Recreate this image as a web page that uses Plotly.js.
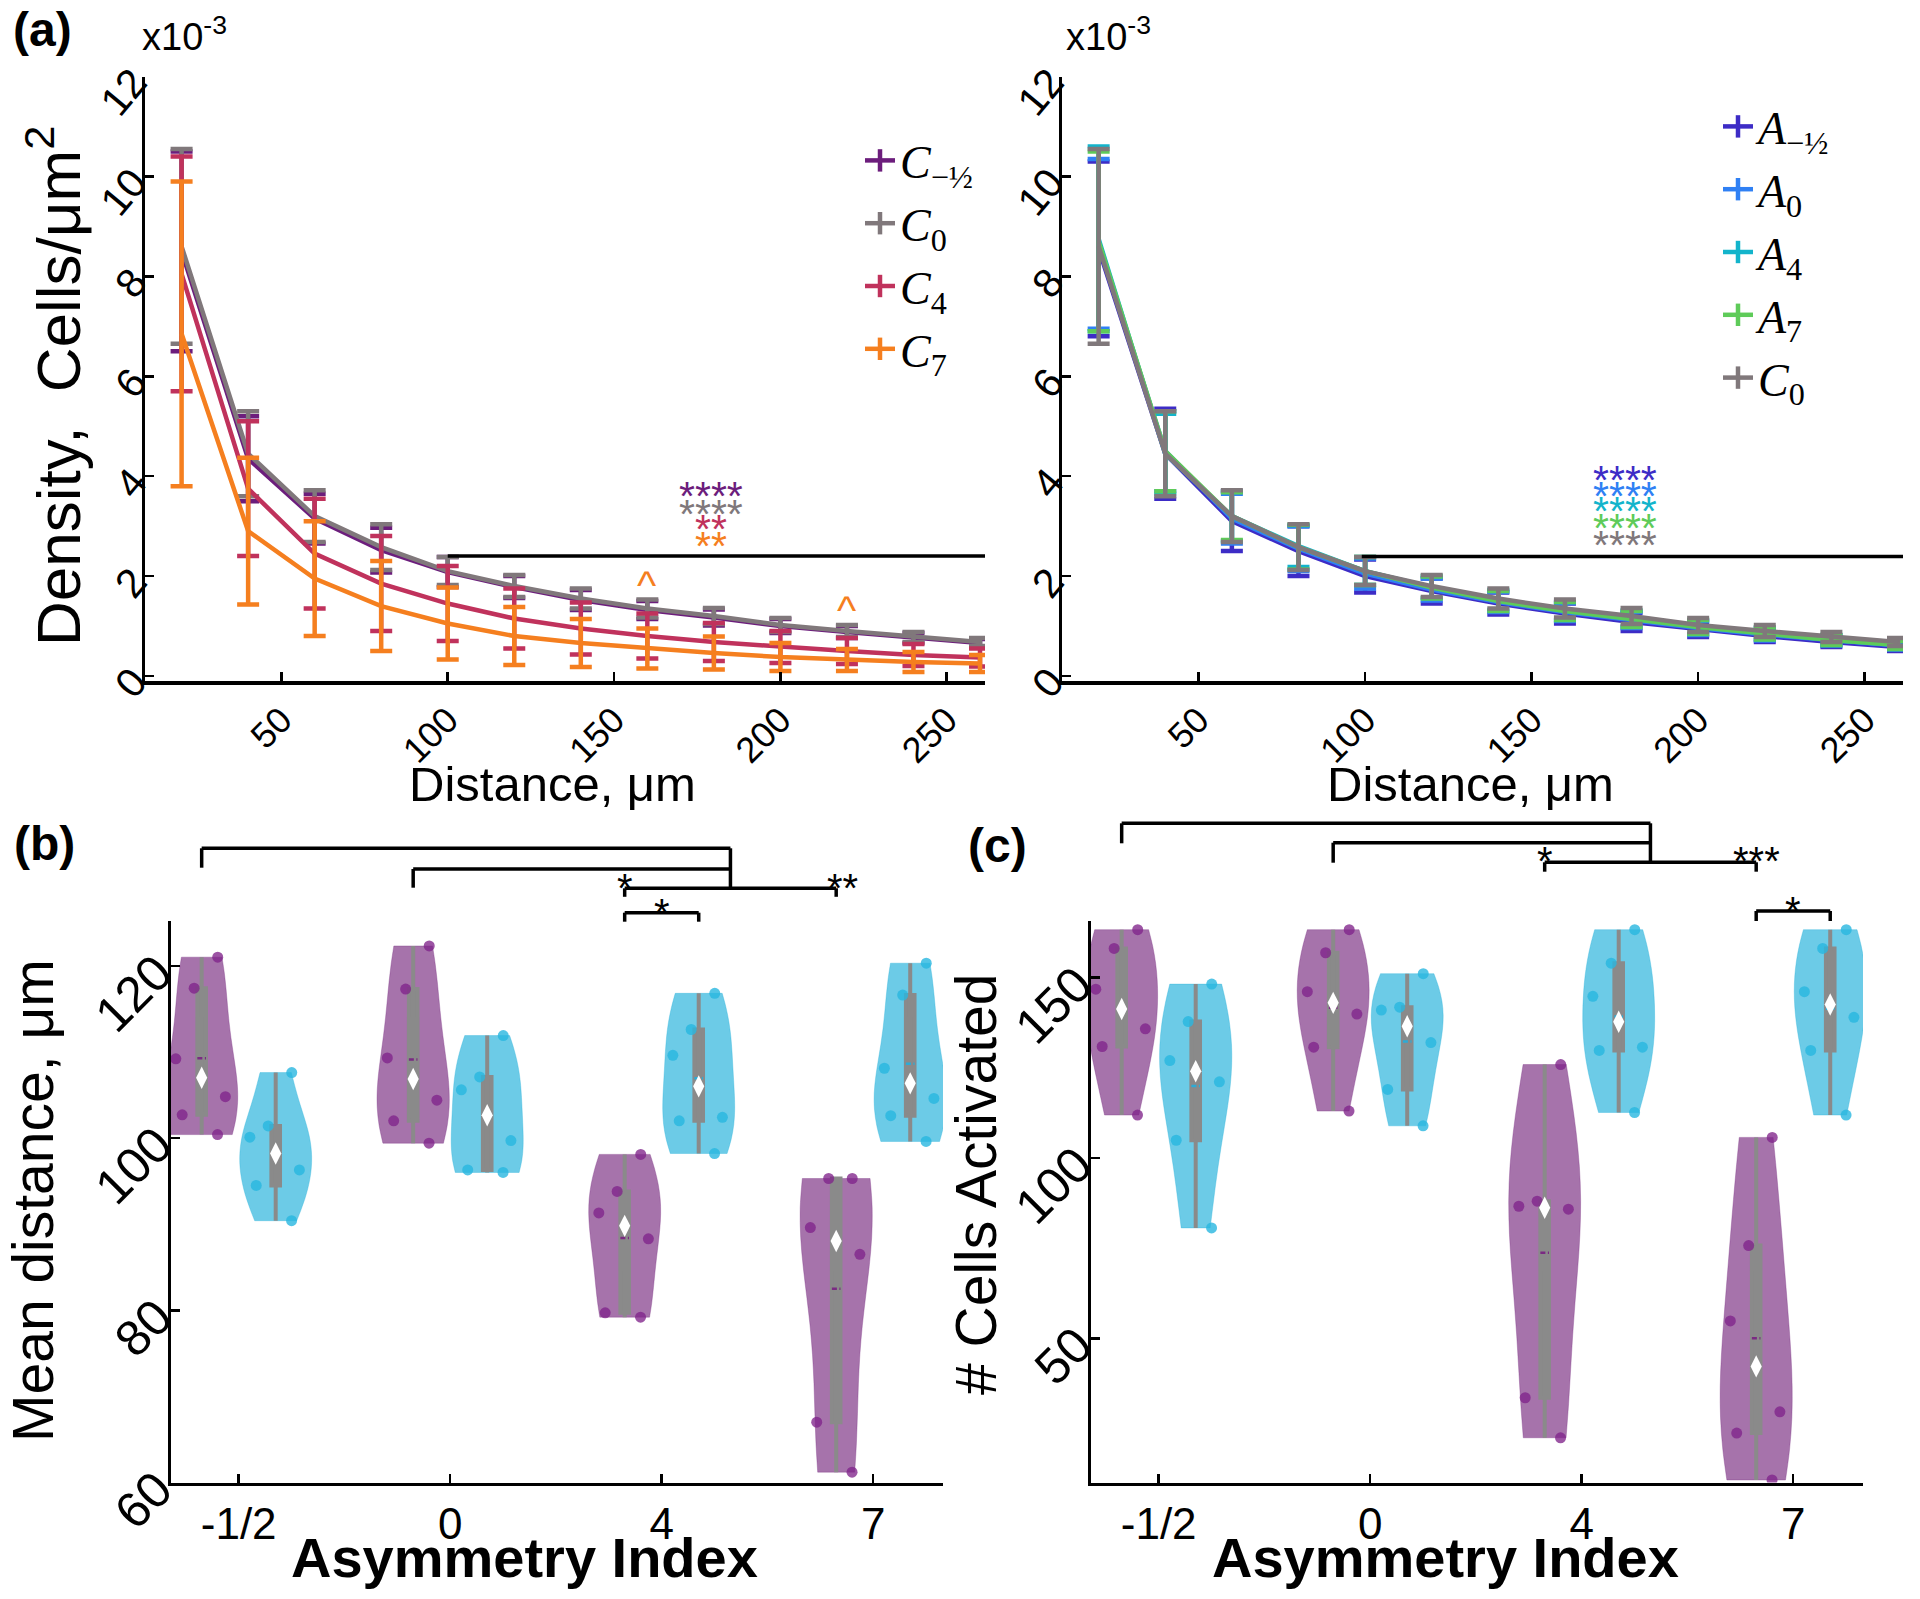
<!DOCTYPE html>
<html><head><meta charset="utf-8">
<script src="https://cdn.plot.ly/plotly-3.0.1.min.js"></script>
<style>html,body{margin:0;padding:0;background:#fff}#chart{width:1920px;height:1599px}</style>
</head><body><div id="chart"></div>
<script>
// ---------- Panel (a): density vs distance (units of 1e-3 cells/um^2) ----------
const distance = [20,40,60,80,100,120,140,160,180,200,220,240,260];
const cNegHalf    = [8.5, 4.35, 3.15, 2.52, 2.08, 1.78, 1.52, 1.32, 1.17, 1.0, 0.88, 0.76, 0.66];
const cNegHalfErr = [2.0, 0.85, 0.5, 0.45, 0.3, 0.22, 0.2, 0.18, 0.16, 0.14, 0.12, 0.1, 0.08];
const c0          = [8.6, 4.45, 3.2, 2.58, 2.1, 1.8, 1.55, 1.35, 1.2, 1.02, 0.9, 0.78, 0.68];
const c0Err       = [1.95, 0.85, 0.52, 0.46, 0.28, 0.22, 0.2, 0.18, 0.16, 0.14, 0.12, 0.1, 0.08];
const c4          = [8.05, 3.75, 2.45, 1.85, 1.45, 1.15, 0.95, 0.8, 0.68, 0.58, 0.5, 0.42, 0.37];
const c4Err       = [2.35, 1.35, 1.1, 0.95, 0.75, 0.6, 0.52, 0.45, 0.38, 0.32, 0.26, 0.22, 0.18];
const c7          = [6.85, 2.9, 1.95, 1.4, 1.05, 0.8, 0.66, 0.55, 0.46, 0.38, 0.32, 0.28, 0.25];
const c7Err       = [3.05, 1.47, 1.15, 0.9, 0.72, 0.58, 0.48, 0.4, 0.33, 0.28, 0.22, 0.2, 0.17];
const aNegHalf    = [8.55, 4.45, 3.1, 2.5, 2.0, 1.7, 1.45, 1.25, 1.08, 0.93, 0.8, 0.68, 0.58];
const aNegHalfErr = [1.75, 0.9, 0.6, 0.5, 0.33, 0.25, 0.22, 0.2, 0.18, 0.15, 0.12, 0.1, 0.08];
const a0          = [8.65, 4.5, 3.15, 2.55, 2.05, 1.73, 1.48, 1.28, 1.12, 0.96, 0.83, 0.71, 0.61];
const a0Err       = [1.7, 0.8, 0.5, 0.45, 0.3, 0.22, 0.2, 0.18, 0.16, 0.14, 0.12, 0.1, 0.08];
const a4          = [8.75, 4.45, 3.2, 2.6, 2.1, 1.78, 1.52, 1.3, 1.15, 0.98, 0.85, 0.72, 0.62];
const a4Err       = [1.85, 0.8, 0.5, 0.42, 0.28, 0.22, 0.2, 0.18, 0.16, 0.14, 0.12, 0.1, 0.08];
const a7          = [8.7, 4.5, 3.2, 2.58, 2.1, 1.77, 1.5, 1.3, 1.14, 0.98, 0.85, 0.72, 0.62];
const a7Err       = [1.8, 0.8, 0.48, 0.45, 0.28, 0.22, 0.2, 0.18, 0.16, 0.14, 0.12, 0.1, 0.08];

// ---------- Panels (b), (c): per-animal values by asymmetry index ----------
const asymLabels = ['-1/2', '0', '4', '7'];
const asymPos = [1, 2, 3, 4];
// (b) mean distance, um  (purple = C group, cyan = A group)
const distPurpleNegHalf = [121.0, 117.4, 109.2, 104.8, 102.7, 100.4];
const distPurple0       = [122.3, 117.3, 109.3, 104.4, 102.0, 99.4];
const distPurple4       = [98.1, 93.8, 91.3, 88.3, 79.7, 79.2];
const distPurple7       = [95.3, 95.3, 89.6, 86.5, 67.0, 61.2];
const distCyanNegHalf   = [107.6, 101.4, 100.1, 96.3, 94.5, 90.4];
const distCyan0         = [111.9, 107.1, 105.6, 99.7, 96.3, 96.0];
const distCyan4         = [116.8, 112.6, 109.6, 102.4, 102.0, 98.2];
const distCyan7         = [120.3, 116.6, 108.1, 104.6, 102.6, 99.6];
// (c) number of cells activated
const cellsPurpleNegHalf = [163.3, 158.1, 146.8, 135.8, 130.9, 111.9];
const cellsPurple0       = [163.3, 156.9, 146.1, 139.9, 130.7, 113.0];
const cellsPurple4       = [125.9, 88.0, 86.6, 85.8, 33.5, 22.4];
const cellsPurple7       = [105.7, 75.7, 54.8, 29.6, 23.7, 10.7];
const cellsCyanNegHalf   = [148.2, 137.8, 127.0, 121.1, 104.9, 80.6];
const cellsCyan0         = [151.1, 141.8, 141.0, 132.0, 119.0, 108.9];
const cellsCyan4         = [163.3, 154.0, 144.8, 130.7, 129.8, 112.6];
const cellsCyan7         = [163.3, 158.1, 146.1, 139.0, 129.8, 111.9];

// ---------- styling ----------
const COL = {cNeg:'#6c1d7c', c0:'#80787b', c4:'#c0325c', c7:'#f57f1f',
             aNeg:'#3d2cc6', a0:'#2f80f4', a4:'#13b4cb', a7:'#5ecb59'};
const SANS = 'Liberation Sans, Arial, sans-serif';
const SERIF = 'Liberation Serif, Times New Roman, serif';
const GROUP_OFFSET = 0.175;

const traces = [];
function errTrace(y, err, color, xa, ya) {
  traces.push({type:'scatter', mode:'lines', x:distance, y:y, xaxis:xa, yaxis:ya, showlegend:false,
    line:{color:color, width:4.5},
    error_y:{type:'data', array:err, visible:true, color:color, thickness:4.5, width:11}});
}
function legendTrace(name, color, xa, ya, legend) {
  traces.push({type:'scatter', mode:'lines+markers', x:[null], y:[null], xaxis:xa, yaxis:ya,
    name:name, legend:legend, showlegend:true,
    line:{color:color, width:4.5},
    marker:{symbol:'line-ns', size:16, color:color, line:{color:color, width:4.5}}});
}
errTrace(cNegHalf, cNegHalfErr, COL.cNeg, 'x', 'y');
errTrace(c0, c0Err, COL.c0, 'x', 'y');
errTrace(c4, c4Err, COL.c4, 'x', 'y');
errTrace(c7, c7Err, COL.c7, 'x', 'y');
errTrace(aNegHalf, aNegHalfErr, COL.aNeg, 'x2', 'y2');
errTrace(a0, a0Err, COL.a0, 'x2', 'y2');
errTrace(a4, a4Err, COL.a4, 'x2', 'y2');
errTrace(a7, a7Err, COL.a7, 'x2', 'y2');
errTrace(c0, c0Err, COL.c0, 'x2', 'y2');

legendTrace('<i>C</i><sub>−½</sub>', COL.cNeg, 'x', 'y', 'legend');
legendTrace('<i>C</i><sub>0</sub>', COL.c0, 'x', 'y', 'legend');
legendTrace('<i>C</i><sub>4</sub>', COL.c4, 'x', 'y', 'legend');
legendTrace('<i>C</i><sub>7</sub>', COL.c7, 'x', 'y', 'legend');
legendTrace('<i>A</i><sub>−½</sub>', COL.aNeg, 'x2', 'y2', 'legend2');
legendTrace('<i>A</i><sub>0</sub>', COL.a0, 'x2', 'y2', 'legend2');
legendTrace('<i>A</i><sub>4</sub>', COL.a4, 'x2', 'y2', 'legend2');
legendTrace('<i>A</i><sub>7</sub>', COL.a7, 'x2', 'y2', 'legend2');
legendTrace('<i>C</i><sub>0</sub>', COL.c0, 'x2', 'y2', 'legend2');

const VSTYLE = {
  purple:{fill:'rgba(124,49,131,0.68)', line:'rgba(124,49,131,0.35)', mean:'#7a2a82', pt:'rgba(128,36,138,0.78)'},
  cyan:{fill:'rgba(39,178,219,0.68)', line:'rgba(39,178,219,0.35)', mean:'#2cabd6', pt:'rgba(40,182,224,0.8)'}
};
function median(a) {
  const s = a.slice().sort((p,q)=>p-q); const n = s.length;
  return n % 2 ? s[(n-1)/2] : (s[n/2-1] + s[n/2]) / 2;
}
function violinPanel(purpleSets, cyanSets, xa, ya) {
  const mx = [], my = [];
  [['purple', purpleSets, -GROUP_OFFSET], ['cyan', cyanSets, GROUP_OFFSET]].forEach(([k, sets, off]) => {
    const st = VSTYLE[k];
    sets.forEach((vals, i) => {
      const pos = asymPos[i] + off;
      traces.push({type:'violin', x0:pos, y:vals, xaxis:xa, yaxis:ya, showlegend:false,
        width:0.34, scalemode:'width', spanmode:'hard',
        fillcolor:st.fill, line:{color:st.line, width:1},
        meanline:{visible:true, color:st.mean, width:2.5},
        box:{visible:true, width:0.12, fillcolor:'#8a8a8a', line:{color:'#8a8a8a', width:4}},
        points:'all', pointpos:0, jitter:0.85,
        marker:{size:11, color:st.pt, line:{width:0}}, hoverinfo:'y'});
      mx.push(pos); my.push(median(vals));
    });
  });
  traces.push({type:'scatter', mode:'markers', x:mx, y:my, xaxis:xa, yaxis:ya, showlegend:false,
    marker:{symbol:'diamond-tall', size:16, color:'#ffffff', line:{width:0}}});
}
violinPanel([distPurpleNegHalf, distPurple0, distPurple4, distPurple7],
            [distCyanNegHalf, distCyan0, distCyan4, distCyan7], 'x3', 'y3');
violinPanel([cellsPurpleNegHalf, cellsPurple0, cellsPurple4, cellsPurple7],
            [cellsCyanNegHalf, cellsCyan0, cellsCyan4, cellsCyan7], 'x4', 'y4');

// ---------- axes ----------
const axBase = {showline:true, linecolor:'#000', linewidth:3.5, ticks:'inside', ticklen:9, tickwidth:2.5,
  tickcolor:'#000', showgrid:false, zeroline:false, fixedrange:true};
const tf = s => ({family:SANS, size:s, color:'#000'});
const H = 1599, W = 1920;
const py = p => 1 - p / H, px = p => p / W;

const layout = {
  width:W, height:H, margin:{l:0, r:0, t:0, b:0}, paper_bgcolor:'#fff', plot_bgcolor:'rgba(0,0,0,0)',
  font:{family:SANS, color:'#000'}, showlegend:true, violingap:0, violinmode:'overlay',
  xaxis:{...axBase, anchor:'y', domain:[px(145), px(985)], range:[9, 261.5], tickvals:[50,100,150,200,250], tickangle:-45, tickfont:tf(36)},
  yaxis:{...axBase, anchor:'x', domain:[py(681), py(76.5)], range:[-0.1, 12], tick0:0, dtick:2, tickangle:-50, tickfont:tf(41)},
  xaxis2:{...axBase, anchor:'y2', domain:[px(1062), px(1903)], range:[9, 261.5], tickvals:[50,100,150,200,250], tickangle:-45, tickfont:tf(36)},
  yaxis2:{...axBase, anchor:'x2', domain:[py(681), py(76.5)], range:[-0.1, 12], tick0:0, dtick:2, tickangle:-50, tickfont:tf(41)},
  xaxis3:{...axBase, anchor:'y3', type:'linear', domain:[px(171), px(943)], range:[0.68, 4.33],
    tickvals:asymPos, ticktext:asymLabels, tickangle:0, tickfont:tf(44)},
  yaxis3:{...axBase, anchor:'x3', domain:[py(1482.5), py(921)], range:[60, 125.2], tickvals:[60,80,100,120], tickangle:-45,
    tickfont:tf(50)},
  xaxis4:{...axBase, anchor:'y4', type:'linear', domain:[px(1091), px(1863)], range:[0.68, 4.33],
    tickvals:asymPos, ticktext:asymLabels, tickangle:0, tickfont:tf(44)},
  yaxis4:{...axBase, anchor:'x4', domain:[py(1482.5), py(921)], range:[10, 165.7], tickvals:[50,100,150], tickangle:-45,
    tickfont:tf(50)},
  legend:{x:px(860), y:py(124), xanchor:'left', yanchor:'top', bgcolor:'rgba(0,0,0,0)',
    font:{family:SERIF, size:46, color:'#000'}, tracegroupgap:0},
  legend2:{x:px(1718), y:py(90), xanchor:'left', yanchor:'top', bgcolor:'rgba(0,0,0,0)',
    font:{family:SERIF, size:46, color:'#000'}, tracegroupgap:0},
  annotations:[], shapes:[]
};

const ann = layout.annotations, shp = layout.shapes;
function paperText(text, x, y, size, opts) {
  ann.push(Object.assign({text:text, xref:'paper', yref:'paper', x:px(x), y:py(y), showarrow:false,
    xanchor:'center', yanchor:'middle', font:{family:SANS, size:size, color:'#000'}}, opts || {}));
}
// panel letters & exponents
paperText('<b>(a)</b>', 42, 30, 48);
paperText('<b>(b)</b>', 44, 843, 48);
paperText('<b>(c)</b>', 997, 845, 48);
paperText('x10<sup>-3</sup>', 184, 34, 38);
paperText('x10<sup>-3</sup>', 1108, 34, 38);
// axis titles
paperText('Density,&nbsp; Cells/μm<sup>2</sup>', 54, 386, 62, {textangle:-90});
paperText('Distance, μm', 552, 784, 49);
paperText('Distance, μm', 1470, 784, 49);
paperText('Mean distance, μm', 33, 1201, 57, {textangle:-90});
paperText('# Cells Activated', 976, 1185, 57, {textangle:-90});
paperText('<b>Asymmetry Index</b>', 524, 1557, 56);
paperText('<b>Asymmetry Index</b>', 1445, 1557, 56);

// significance marks, panel (a)
function dataText(text, x, y, color, xa, ya, size) {
  ann.push({text:text, xref:xa, yref:ya, x:x, y:y, showarrow:false, xanchor:'center', yanchor:'middle',
    yshift:-8, font:{family:SANS, size:size || 41, color:color}});
}
dataText('****', 179, 3.76, COL.cNeg, 'x', 'y');
dataText('****', 179, 3.40, COL.c0, 'x', 'y');
dataText('**', 179, 3.10, COL.c4, 'x', 'y');
dataText('**', 179, 2.76, COL.c7, 'x', 'y');
dataText('^', 160, 1.99, COL.c7, 'x', 'y');
dataText('^', 220, 1.49, COL.c7, 'x', 'y');
dataText('****', 178, 4.09, COL.aNeg, 'x2', 'y2');
dataText('****', 178, 3.77, COL.a0, 'x2', 'y2');
dataText('****', 178, 3.46, COL.a4, 'x2', 'y2');
dataText('****', 178, 3.12, COL.a7, 'x2', 'y2');
dataText('****', 178, 2.78, COL.c0, 'x2', 'y2');
shp.push({type:'line', xref:'x', yref:'y', x0:100, x1:261.5, y0:2.4, y1:2.4, line:{color:'#000', width:3.5}});
shp.push({type:'line', xref:'x2', yref:'y2', x0:99, x1:261.5, y0:2.39, y1:2.39, line:{color:'#000', width:3.5}});

// brackets, panels (b) and (c): x in data units, y in full-image px
function seg(xa, x0, y0, x1, y1) {
  shp.push({type:'line', xref:xa, yref:'paper', x0:x0, x1:x1, y0:py(y0), y1:py(y1), line:{color:'#000', width:3.5}});
}
function bracket(xa, xl, xr, yl, dropL, dropR) {
  seg(xa, xl, yl, xr, yl);
  if (dropL) seg(xa, xl, yl, xl, yl + dropL);
  if (dropR) seg(xa, xr, yl, xr, yl + dropR);
}
function bracketText(text, xa, x, y) {
  ann.push({text:text, xref:xa, yref:'paper', x:x, y:py(y), showarrow:false, xanchor:'center', yanchor:'middle',
    yshift:-8, font:{family:SANS, size:40, color:'#000'}});
}
const P = i => asymPos[i] - GROUP_OFFSET, C = i => asymPos[i] + GROUP_OFFSET;
// (b)
bracket('x3', P(0), (P(2)+P(3))/2, 848.3, 19.4, 40);
bracket('x3', P(1), (P(2)+P(3))/2, 869, 18.7, 0);
bracket('x3', P(2), P(3), 888.3, 8.5, 8.5);
bracket('x3', P(2), C(2), 912.7, 9, 9);
bracketText('*', 'x3', P(2), 880);
bracketText('**', 'x3', P(3) + 0.03, 880);
bracketText('*', 'x3', (P(2)+C(2))/2, 905);
// (c)
bracket('x4', P(0), (P(2)+P(3))/2, 823.3, 20, 39);
bracket('x4', P(1), (P(2)+P(3))/2, 842.7, 20, 0);
bracket('x4', P(2), P(3), 862.3, 9.4, 9.4);
bracket('x4', P(3), C(3), 911, 10, 10);
bracketText('*', 'x4', P(2), 853);
bracketText('***', 'x4', P(3), 853);
bracketText('*', 'x4', (P(3)+C(3))/2, 903);

Plotly.newPlot('chart', traces, layout, {staticPlot:true});
</script></body></html>
